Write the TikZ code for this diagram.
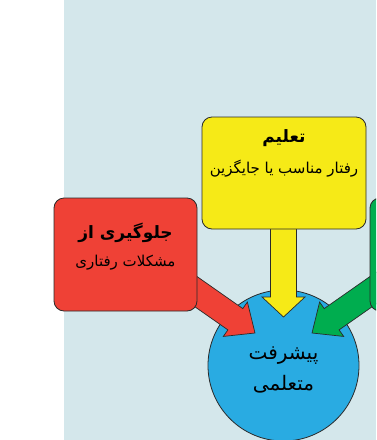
\documentclass[tikz,border=0pt]{standalone}
\usepackage{fontspec}
\newfontfamily\arabicfont[Script=Arabic]{DejaVu Sans}
\TeXXeTstate=1
\definecolor{bgc}{HTML}{D4E7EB}
\definecolor{cyel}{HTML}{F6EA17}
\definecolor{cred}{HTML}{EF4136}
\definecolor{cgrn}{HTML}{00AD4F}
\definecolor{cblu}{HTML}{29ABE2}
\definecolor{edge}{HTML}{2A2A2A}
\begin{document}
\begin{tikzpicture}[x=1pt,y=-1pt,
  box/.style={draw=edge, line width=0.8pt, rounded corners=10pt, minimum width=143pt, minimum height=113pt, inner sep=0pt},
  blk/.style={draw=edge, line width=0.7pt},
  ttl/.style={font=\arabicfont\bfseries\fontsize{17}{20}\selectfont, inner sep=0pt},
  sub/.style={font=\arabicfont\fontsize{15}{18}\selectfont, inner sep=0pt},
  big/.style={font=\arabicfont\fontsize{20}{24}\selectfont, inner sep=0pt}]
\useasboundingbox (0,0) rectangle (376,440);
\clip (0,0) rectangle (376,440);
\fill[bgc] (64,0) rectangle (376,440);
% goal circle
\node[circle, draw=edge, line width=0.8pt, fill=cblu, minimum size=151pt, inner sep=0pt] (goal) at (283.5,365.5) {};
% arrow tips
\coordinate (tipY) at (283.5,317);
\coordinate (tipR) at (255,333);
\coordinate (tipG) at (312,333);
\begin{scope}[shift={(tipY)}, rotate=-90]
  \filldraw[blk, fill=cyel] (0,0) -- (-20,-21.5) -- (-20,-13) -- (-100,-13) -- (-100,13) -- (-20,13) -- (-20,21.5) -- cycle;
\end{scope}
\begin{scope}[shift={(tipR)}, rotate=-35]
  \filldraw[blk, fill=cred] (0,0) -- (-24,-21) -- (-24,-13) -- (-110,-13) -- (-110,13) -- (-24,13) -- (-24,21) -- cycle;
\end{scope}
\begin{scope}[shift={(tipG)}, rotate=215]
  \filldraw[blk, fill=cgrn] (0,0) -- (-24,-21) -- (-24,-13) -- (-110,-13) -- (-110,13) -- (-24,13) -- (-24,21) -- cycle;
\end{scope}
% boxes
\node[box, fill=cyel, minimum width=164pt, minimum height=112pt] (teach) at (284,173) {};
\node[box, fill=cred] (prevent) at (125.5,254.5) {};
\node[box, fill=cgrn] (other) at (441.5,254.5) {};
% texts
\node[ttl] (teachT) at (284,138.5) {\beginR تعلیم\endR};
\node[sub] (teachS) at (284,169) {\beginR رفتار مناسب یا جایگزین\endR};
\node[ttl] (prevT) at (125.5,232.5) {\beginR جلوگیری از\endR};
\node[sub] (prevS) at (125.5,263) {\beginR مشکلات رفتاری\endR};
\node[big] (goalA) at (283.5,356) {\beginR پیشرفت\endR};
\node[big] (goalB) at (283.5,384) {\beginR متعلمی\endR};
\end{tikzpicture}
\end{document}
